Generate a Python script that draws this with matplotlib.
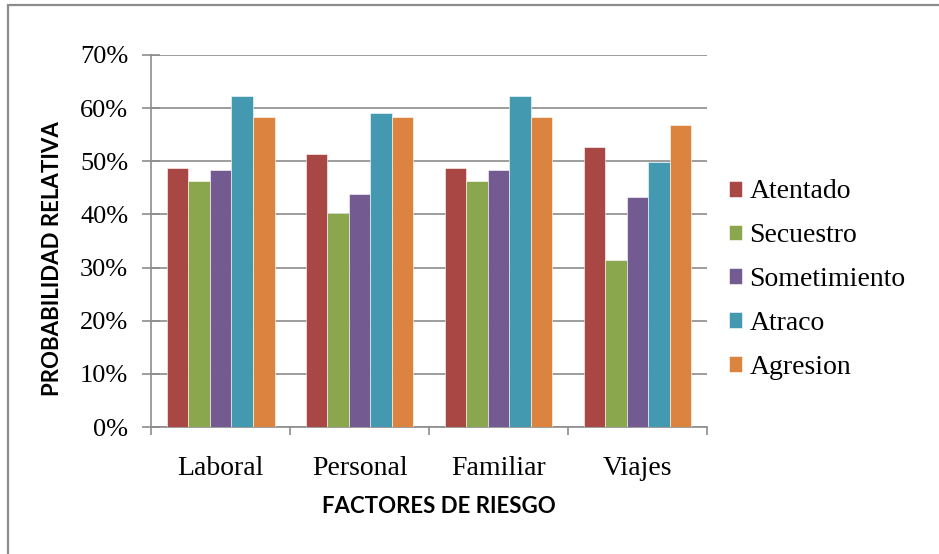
import matplotlib.pyplot as plt
import numpy as np
from matplotlib.patches import Rectangle
from matplotlib.ticker import PercentFormatter

categories = ["Laboral", "Personal", "Familiar", "Viajes"]
series = ["Atentado", "Secuestro", "Sometimiento", "Atraco", "Agresion"]
atentado = [48.7, 51.4, 48.7, 52.6]
secuestro = [46.3, 40.2, 46.3, 31.5]
sometimiento = [48.3, 43.9, 48.3, 43.2]
atraco = [62.2, 59.1, 62.2, 49.9]
agresion = [58.4, 58.4, 58.4, 56.8]
values = [atentado, secuestro, sometimiento, atraco, agresion]
colors = ["#a94744", "#8aa74e", "#735a90", "#4299b0", "#dc843f"]

fig = plt.figure(figsize=(9.39, 5.54), dpi=100)
ax = fig.add_axes([0.161, 0.229, 0.592, 0.672])

# chart border
fig.patches.append(Rectangle((0.0085, -0.1), 1.2, 1.091, transform=fig.transFigure,
                             fill=False, edgecolor="#8c8c8c", linewidth=1.6))

x = np.arange(len(categories))
w = 0.155
for i, (name, vals, c) in enumerate(zip(series, values, colors)):
    ax.bar(x + (i - 2) * w, vals, width=w, color=c, label=name, zorder=3,
           edgecolor="white", linewidth=0.4)

ax.set_xlim(-0.5, 3.5)
ax.set_ylim(0, 70)
ax.set_yticks(np.arange(0, 71, 10))
ax.yaxis.set_major_formatter(PercentFormatter(decimals=0))
ax.grid(axis="y", color="#8c8c8c", linewidth=1.2, zorder=0)
ax.set_xticks(x)
ax.set_xticklabels(categories, fontsize=20, family="Liberation Serif")
ax.set_xticks(np.arange(-0.5, 4, 1), minor=True)
ax.tick_params(axis="x", which="major", length=0, pad=21)
ax.tick_params(axis="x", which="minor", length=6, color="#8c8c8c", width=1.2)
ax.tick_params(axis="y", direction="inout", length=13, color="#8c8c8c", width=1.2, pad=10)
for lab in ax.get_yticklabels():
    lab.set_family("Liberation Serif")
    lab.set_fontsize(19)
for s in ["top", "right"]:
    ax.spines[s].set_visible(False)
for s in ["left", "bottom"]:
    ax.spines[s].set_color("#8c8c8c")
    ax.spines[s].set_linewidth(1.2)

ax.set_xlabel("FACTORES DE RIESGO", fontsize=16, fontweight="bold", family="Lato")
ax.set_ylabel("PROBABILIDAD RELATIVA", fontsize=16, fontweight="bold", family="Lato")
ax.xaxis.set_label_coords(0.518, -0.185)
ax.yaxis.set_label_coords(-0.158, 0.454)

ax.legend(loc="center left", bbox_to_anchor=(0.764, 0.495),
          bbox_transform=fig.transFigure, borderaxespad=0, frameon=False,
          prop={"family": "Liberation Serif", "size": 20},
          handlelength=0.5, handleheight=0.5, handletextpad=0.25,
          labelspacing=0.68)

fig.savefig("out.png", dpi=100)
